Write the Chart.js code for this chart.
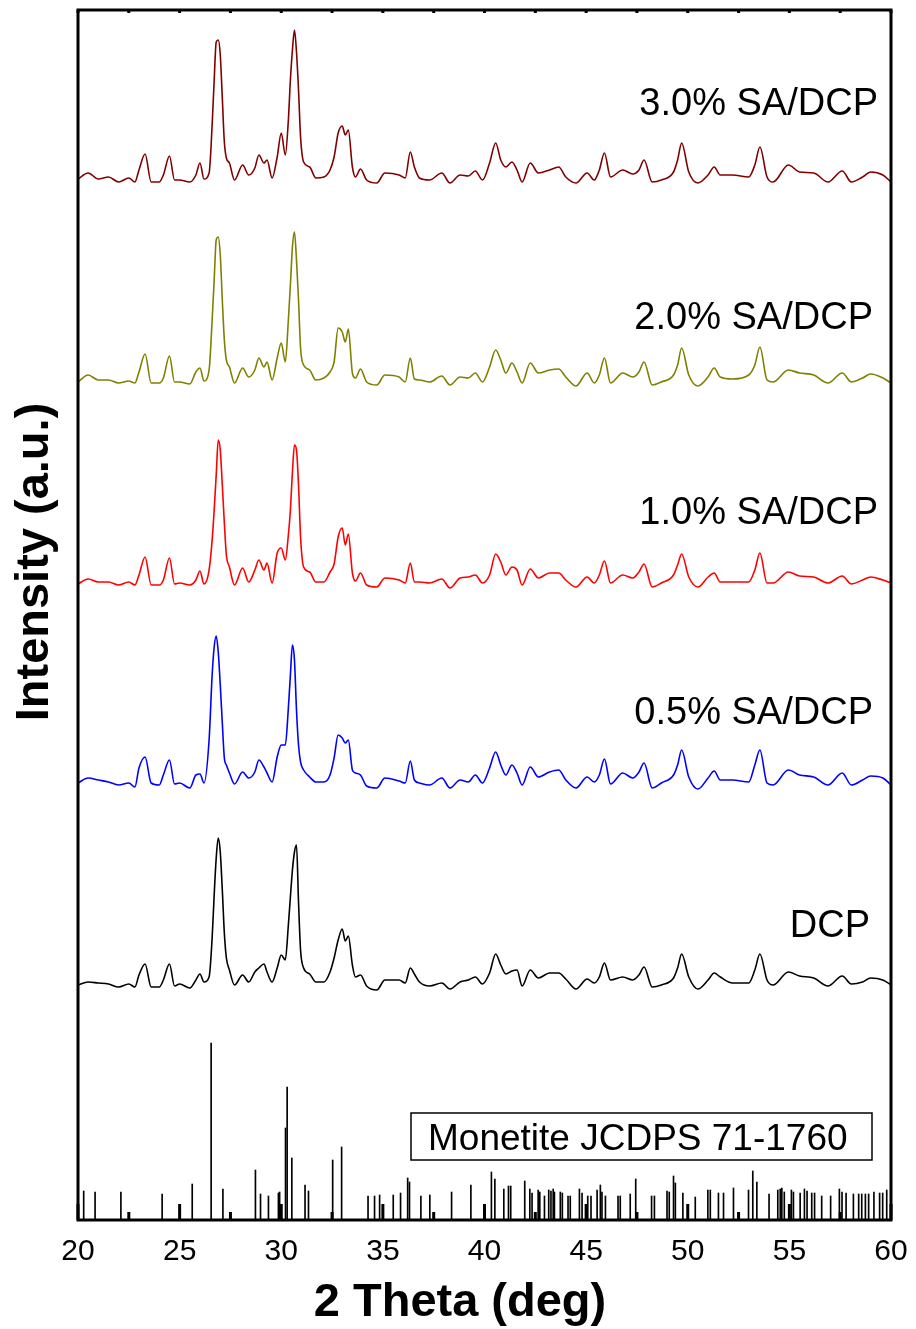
<!DOCTYPE html>
<html>
<head>
<meta charset="utf-8">
<script src="https://cdn.jsdelivr.net/npm/chart.js@4.4.1/dist/chart.umd.min.js"></script>
<style>
    html, body { margin: 0; padding: 0; background: #fff; }
    canvas { display: block; }
</style>
</head>
<body>
<canvas id="xrd" width="916" height="1329"></canvas>
<script>
// 2 theta grid shared by the five patterns (deg)
const twoTheta = [
    20.0, 20.5, 21.0, 21.5, 22.0, 22.5, 22.8, 23.0, 23.3, 23.6,
    24.0, 24.2, 24.5, 24.75, 25.0, 25.5, 25.8, 26.0, 26.2, 26.45,
    26.6, 26.7, 26.8, 26.9, 27.0, 27.1, 27.2, 27.3, 27.45, 27.7,
    28.1, 28.4, 28.7, 28.9, 29.15, 29.3, 29.55, 29.8, 30.0, 30.2,
    30.35, 30.45, 30.55, 30.65, 30.75, 30.85, 30.95, 31.1, 31.4, 31.7,
    32.1, 32.4, 32.6, 32.8, 33.0, 33.15, 33.3, 33.5, 33.65, 33.9,
    34.2, 34.7, 35.1, 35.8, 36.1, 36.35, 36.55, 36.8, 37.3, 37.9,
    38.3, 38.8, 39.2, 39.55, 39.9, 40.25, 40.55, 40.8, 41.05, 41.35,
    41.6, 41.85, 42.25, 42.65, 43.2, 43.65, 44.0, 44.5, 45.05, 45.4,
    45.65, 45.9, 46.2, 46.8, 47.3, 47.6, 47.85, 48.25, 48.7, 49.3,
    49.5, 49.7, 50.05, 50.5, 51.0, 51.3, 51.6, 52.2, 53.0, 53.3,
    53.55, 53.9, 54.2, 54.95, 55.5, 56.2, 56.9, 57.6, 58.05, 58.6,
    59.0, 59.6, 60.0
];

// intensities (a.u., already stacked)
const dcp = [
    235, 238, 237, 236, 233, 236, 233, 245, 256, 233,
    233, 240, 256, 234, 236, 232, 240, 246, 238, 243,
    282, 325, 362, 382, 368, 330, 287, 262, 250, 235,
    245, 238, 248, 252, 256, 248, 238, 252, 265, 260,
    295, 323, 350, 368, 375, 318, 270, 252, 246, 238,
    238, 248, 262, 280, 291, 279, 284, 255, 243, 245,
    234, 230, 240, 240, 237, 252, 246, 238, 234, 237,
    231, 238, 240, 243, 236, 247, 266, 255, 246, 249,
    250, 234, 250, 242, 247, 247, 241, 231, 241, 237,
    243, 257, 240, 243, 240, 245, 253, 233, 235, 242,
    252, 266, 243, 231, 240, 247, 243, 237, 237, 250,
    266, 240, 235, 248, 244, 242, 234, 244, 236, 238,
    242, 240, 235
];
const sa05 = [
    437, 442, 440, 438, 435, 437, 433, 452, 463, 437,
    435, 445, 460, 436, 437, 432, 445, 446, 437, 480,
    545, 573, 584, 568, 535, 497, 462, 455, 447, 436,
    448, 442, 448, 460, 453, 447, 438, 463, 475, 475,
    512, 545, 575, 560, 510, 475, 458, 450, 443, 438,
    438, 445, 462, 485, 482, 477, 480, 450, 447, 445,
    434, 432, 442, 439, 437, 459, 440, 437, 435, 442,
    432, 440, 438, 445, 437, 452, 468, 455, 445, 455,
    447, 435, 453, 443, 448, 450, 440, 432, 443, 438,
    445, 461, 436, 447, 442, 448, 457, 432, 437, 445,
    455, 470, 443, 431, 442, 449, 440, 440, 438, 455,
    470, 437, 435, 450, 445, 443, 435, 447, 435, 440,
    444, 442, 435
];
const sa10 = [
    636, 641, 638, 638, 635, 638, 635, 645, 663, 635,
    635, 640, 662, 636, 637, 635, 640, 649, 636, 650,
    680, 710, 745, 780, 770, 735, 697, 665, 653, 635,
    652, 638, 650, 660, 650, 657, 637, 667, 672, 660,
    685, 710, 748, 775, 770, 735, 683, 653, 648, 638,
    638, 648, 656, 683, 692, 675, 686, 647, 639, 647,
    635, 633, 642, 640, 637, 657, 638, 638, 637, 641,
    632, 642, 643, 645, 637, 645, 666, 658, 645, 653,
    650, 635, 651, 642, 647, 647, 640, 633, 643, 637,
    645, 659, 637, 645, 642, 648, 656, 633, 637, 645,
    655, 666, 643, 633, 643, 647, 638, 638, 638, 650,
    667, 637, 637, 648, 644, 643, 637, 644, 636, 640,
    643, 640, 637
];
const sa20 = [
    838, 845, 840, 840, 837, 839, 837, 848, 866, 837,
    837, 842, 864, 838, 838, 836, 848, 852, 839, 850,
    900, 940, 980, 983, 965, 920, 880, 860, 853, 837,
    852, 843, 850, 862, 853, 858, 840, 862, 877, 858,
    900, 935, 973, 988, 960, 920, 872, 855, 850, 840,
    842, 848, 858, 892, 888, 878, 891, 847, 842, 851,
    838, 835, 845, 843, 838, 862, 841, 840, 838, 844,
    835, 843, 842, 847, 838, 853, 870, 860, 847, 857,
    848, 837, 857, 847, 850, 851, 843, 834, 847, 837,
    845, 862, 837, 847, 843, 848, 858, 835, 838, 845,
    855, 872, 845, 834, 843, 852, 843, 841, 845, 855,
    873, 840, 838, 850, 847, 845, 837, 847, 838, 842,
    846, 842, 837
];
const sa30 = [
    1041, 1047, 1041, 1043, 1038, 1042, 1038, 1050, 1066, 1038,
    1038, 1045, 1064, 1040, 1040, 1038, 1045, 1057, 1041, 1047,
    1095, 1140, 1178, 1180, 1165, 1122, 1078, 1062, 1057, 1040,
    1055, 1045, 1052, 1065, 1057, 1060, 1042, 1063, 1087, 1065,
    1100, 1140, 1170, 1190, 1168, 1130, 1083, 1058, 1053, 1042,
    1043, 1050, 1063, 1087, 1094, 1085, 1090, 1053, 1043, 1051,
    1040, 1037, 1047, 1045, 1042, 1068, 1053, 1042, 1040, 1047,
    1037, 1045, 1044, 1049, 1040, 1057, 1077, 1060, 1053, 1058,
    1050, 1038, 1057, 1047, 1050, 1053, 1043, 1037, 1047, 1040,
    1050, 1067, 1043, 1050, 1046, 1050, 1060, 1038, 1040, 1048,
    1060, 1077, 1048, 1037, 1045, 1053, 1045, 1045, 1043, 1055,
    1073, 1043, 1038, 1055, 1048, 1047, 1038, 1049, 1038, 1043,
    1048, 1045, 1038
];

// Monetite reference lines
const stickPos = [
    20.28, 20.84, 22.11, 24.14, 25.62, 26.55, 27.13, 28.73, 28.98, 29.37,
    29.86, 29.92, 30.21, 30.29, 30.52, 31.17, 31.34, 32.53, 32.97, 34.27,
    34.59, 34.84, 35.51, 35.87, 36.22, 36.31, 36.87, 37.31, 38.38, 39.33,
    40.34, 40.51, 40.95, 41.18, 41.29, 41.98, 42.23, 42.34, 42.64, 42.72,
    42.95, 43.16, 43.27, 43.38, 43.44, 43.73, 43.83, 44.11, 44.22, 44.67,
    44.80, 45.08, 45.24, 45.54, 45.70, 45.78, 45.95, 46.57, 46.68, 47.17,
    47.44, 48.22, 48.36, 48.98, 49.09, 49.30, 49.39, 49.76, 50.37, 50.99,
    51.11, 51.51, 51.76, 52.25, 52.99, 53.20, 53.40, 54.00, 54.43, 54.55,
    54.63, 54.75, 55.10, 55.20, 55.53, 55.74, 55.87, 56.10, 56.24, 56.59,
    57.03, 57.46, 57.59, 57.79, 58.15, 58.41, 58.56, 58.74, 58.90, 59.16,
    59.44, 59.59, 59.79
];
const stickInt = [
    29, 28, 28, 26, 36, 177, 31, 50, 26, 24,
    27, 28, 92, 133, 62, 35, 29, 60, 73, 24,
    24, 25, 25, 27, 42, 38, 24, 25, 28, 35,
    48, 41, 31, 34, 34, 39, 31, 27, 30, 28,
    24, 30, 29, 31, 28, 28, 27, 24, 24, 31,
    27, 24, 24, 30, 35, 28, 24, 24, 24, 26,
    41, 24, 24, 29, 28, 44, 37, 27, 23, 30,
    30, 27, 27, 32, 30, 49, 38, 26, 30, 31,
    32, 28, 30, 28, 27, 31, 29, 27, 27, 24,
    24, 31, 28, 27, 26, 26, 26, 26, 26, 28,
    27, 27, 30
];

const xTicks = [20, 25, 30, 35, 40, 45, 50, 55, 60];
const xMinorTicks = [22.5, 27.5, 32.5, 37.5, 42.5, 47.5, 52.5, 57.5];

const seriesNames = ['DCP', '0.5% SA/DCP', '1.0% SA/DCP', '2.0% SA/DCP', '3.0% SA/DCP'];
const seriesColors = ['#000000', '#0000ff', '#ff0000', '#808000', '#800000'];
const seriesData = [dcp, sa05, sa10, sa20, sa30];

// where the sample names sit (right edge, baseline) in px
const nameRight = [870, 873, 878, 873, 878];
const nameBase = [937, 724, 524, 329, 115];

const FONT = '"Liberation Sans", Arial, Helvetica, sans-serif';

const decorations = {
    id: 'decorations',
    afterDatasetsDraw(chart) {
        const ctx = chart.ctx;
        const a = chart.chartArea;
        const x = chart.scales.x;

        ctx.save();
        ctx.strokeStyle = '#000';
        ctx.fillStyle = '#000';

        // frame
        ctx.lineWidth = 3;
        ctx.strokeRect(a.left, a.top, a.right - a.left, a.bottom - a.top);

        // inward ticks on bottom, tiny ones on top
        ctx.beginPath();
        xTicks.forEach(v => {
            const px = x.getPixelForValue(v);
            ctx.moveTo(px, a.bottom);
            ctx.lineTo(px, a.bottom - 16);
            ctx.moveTo(px, a.top);
            ctx.lineTo(px, a.top + 3);
        });
        xMinorTicks.forEach(v => {
            const px = x.getPixelForValue(v);
            ctx.moveTo(px, a.bottom);
            ctx.lineTo(px, a.bottom - 8);
            ctx.moveTo(px, a.top);
            ctx.lineTo(px, a.top + 3);
        });
        ctx.stroke();

        // tick labels
        ctx.font = '30px ' + FONT;
        ctx.textAlign = 'center';
        ctx.textBaseline = 'alphabetic';
        xTicks.forEach(v => ctx.fillText(String(v), x.getPixelForValue(v), 1260));

        // sample names
        ctx.font = '38px ' + FONT;
        ctx.textAlign = 'right';
        seriesNames.forEach((name, i) => ctx.fillText(name, nameRight[i], nameBase[i]));

        // reference card label
        ctx.lineWidth = 1.5;
        ctx.strokeRect(411, 1113, 461, 47);
        ctx.font = '37px ' + FONT;
        ctx.textAlign = 'left';
        ctx.fillText('Monetite JCDPS 71-1760', 428, 1150);

        // axis titles
        ctx.font = 'bold 47px ' + FONT;
        ctx.textAlign = 'center';
        ctx.fillText('2 Theta (deg)', 460, 1316);

        ctx.save();
        ctx.translate(48, 562);
        ctx.rotate(-Math.PI / 2);
        ctx.fillText('Intensity (a.u.)', 0, 0);
        ctx.restore();

        ctx.restore();
    }
};

const datasets = seriesData.map((vals, i) => ({
    type: 'line',
    label: seriesNames[i],
    data: twoTheta.map((t, j) => ({ x: t, y: vals[j] })),
    borderColor: seriesColors[i],
    borderWidth: 1.6,
    pointRadius: 0,
    cubicInterpolationMode: 'monotone',
    fill: false
}));

datasets.push({
    type: 'bar',
    label: 'Monetite JCDPS 71-1760',
    data: stickPos.map((p, j) => ({ x: p, y: stickInt[j] })),
    backgroundColor: '#000',
    barThickness: 1,
    grouped: false
});

new Chart(document.getElementById('xrd'), {
    type: 'line',
    data: { datasets: datasets },
    options: {
        responsive: false,
        animation: false,
        devicePixelRatio: 1,
        layout: { padding: { left: 78, right: 25, top: 10, bottom: 109 } },
        plugins: {
            legend: { display: false },
            tooltip: { enabled: false }
        },
        scales: {
            x: { type: 'linear', min: 20, max: 60, offset: false, display: false },
            y: { type: 'linear', min: 0, max: 1210, display: false }
        }
    },
    plugins: [decorations]
});
</script>
</body>
</html>
